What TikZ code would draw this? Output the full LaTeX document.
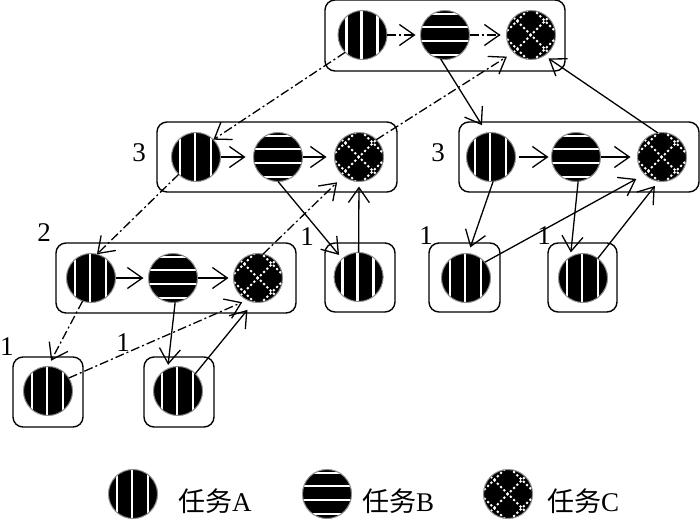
\documentclass[tikz,border=0pt]{standalone}
\usepackage{fontspec}
\setmainfont{Liberation Serif}
\newfontfamily\cjkfam{Noto Sans CJK SC}
\usetikzlibrary{arrows.meta}
\tikzset{
  x=1pt,y=-1pt,
  disc/.style={circle,draw=black!45,line width=1pt,fill=black,minimum size=49pt,inner sep=0pt,outer sep=0pt},
  taskA/.style={disc,path picture={\begin{scope}[shift={(path picture bounding box.center)},white,line width=2.6pt]
     \foreach \d in {-16,-1,15} {\draw (\d,-26) -- (\d,26);}
     \end{scope}}},
  taskB/.style={disc,path picture={\begin{scope}[shift={(path picture bounding box.center)},white,line width=2.6pt]
     \foreach \d in {-21,-8,6,20} {\draw (-26,\d) -- (26,\d);}
     \end{scope}}},
  taskC/.style={disc,path picture={\begin{scope}[shift={(path picture bounding box.center)},yshift=5pt,white,line width=2pt,dash pattern=on 2.2pt off 2.4pt]
     \foreach \d in {-28,0,28} {\draw (-50,\d-50) -- (50,\d+50); \draw (-50,\d+50) -- (50,\d-50);}
     \end{scope}}},
  group/.style={draw=black,line width=1.4pt,rounded corners=10pt,fill=white,inner sep=0pt,outer sep=0pt},
  link/.style={draw=black,line width=1.3pt,-{Straight Barb[length=15pt,width=21pt,line width=1.3pt]}},
  dlink/.style={link,dash pattern=on 9pt off 3pt on 2pt off 3pt},
  num/.style={font=\fontsize{27}{27}\selectfont,inner sep=0pt},
  legend/.style={font=\fontsize{27}{27}\selectfont,inner sep=0pt,anchor=west}
}
\begin{document}
\begin{tikzpicture}
\useasboundingbox[fill=white] (0,0) rectangle (700,522);
% boxes
\node[group,minimum width=240pt,minimum height=71pt] (g1) at (445,35.5) {};
\node[group,minimum width=240pt,minimum height=70pt] (g2) at (277,157) {};
\node[group,minimum width=240pt,minimum height=70pt] (g3) at (579,157) {};
\node[group,minimum width=240pt,minimum height=70pt] (g4) at (176,278) {};
\node[group,minimum width=70pt,minimum height=69pt] (g5) at (360,277.5) {};
\node[group,minimum width=71pt,minimum height=69pt] (g6) at (464.5,277.5) {};
\node[group,minimum width=69pt,minimum height=69pt] (g7) at (582.5,277.5) {};
\node[group,minimum width=70pt,minimum height=70pt] (g8) at (48,392) {};
\node[group,minimum width=70pt,minimum height=70pt] (g9) at (179,392) {};
% discs
\node[taskA] (ta) at (362.5,35) {};
\node[taskB] (tb) at (445,35) {};
\node[taskC] (tc) at (531,35) {};
\node[taskA] (la) at (196,157) {};
\node[taskB] (lb) at (278,157) {};
\node[taskC] (lc) at (359,157) {};
\node[taskA] (ra) at (491,157) {};
\node[taskB] (rb) at (576,157) {};
\node[taskC] (rc) at (662,157) {};
\node[taskA] (ma) at (91,278) {};
\node[taskB] (mb) at (173,278) {};
\node[taskC] (mc) at (258,278) {};
\node[taskA] (s1) at (358.6,277) {};
\node[taskA] (s2) at (466,278) {};
\node[taskA] (s3) at (583,278) {};
\node[taskA] (s4) at (48,391) {};
\node[taskA] (s5) at (178,391) {};
% row links
\draw[dlink,shorten >=5pt] (ta.east) -- (tb.west);
\draw[dlink,shorten >=6pt] (tb.east) -- (tc.west);
\draw[link,shorten >=8pt] (la.east) -- (lb.west);
\draw[link,shorten >=8pt] (lb.east) -- (lc.west);
\draw[link,shorten <=3pt,shorten >=3pt] (ra.east) -- (rb.west);
\draw[link,shorten >=7pt] (rb.east) -- (rc.west);
\draw[link,shorten >=5pt] (ma.east) -- (mb.west);
\draw[link,shorten >=5pt] (mb.east) -- (mc.west);
% cross links
\draw[dlink] (ta.225) -- (la.45);
\draw[dlink,shorten >=8pt] (lc.45) -- (tc.225);
\draw[link,shorten >=9pt] (tb.-100) -- (ra.100);
\draw[link,shorten >=5pt] (rc.100) -- (tc.-57);
\draw[dlink] (la.225) -- (ma.76);
\draw[link,shorten >=5pt] (lb.270) -- (s1.132);
\draw[link,shorten >=5pt] (s1.north) -- (lc.south);
\draw[dlink,shorten >=9pt] (mc.78) -- (lc.231);
\draw[link,shorten >=4pt] (mb.-85) -- (s5.115);
\draw[link,shorten >=10pt] (s5.45) -- (mc.260);
\draw[dlink,shorten >=5.5pt] (s4.32) -- (mc.244);
\draw[dlink,shorten >=6.5pt] (ma.250) -- (s4.north);
\draw[link,shorten >=6.5pt] (ra.-85) -- (s2.85);
\draw[link,shorten >=9.5pt] (s2.40) -- (rc.225);
\draw[link,shorten >=4.6pt] (rb.-85) -- (s3.121);
\draw[link,shorten >=6pt] (s3.53) -- (rc.262);
% numbers
\node[num] (n1) at (139,153) {3};
\node[num] (n2) at (438,153) {3};
\node[num] (n3) at (44,233) {2};
\node[num] (n4) at (307,237) {1};
\node[num] (n5) at (426,236) {1};
\node[num] (n6) at (544,236) {1};
\node[num] (n7) at (7,347) {1};
\node[num] (n8) at (123,343) {1};
% legend
\node[taskA] (ka) at (133,494) {};
\node[taskB] (kb) at (327,494) {};
\node[taskC] (kc) at (508,494) {};
\node[legend] (ta1) at (178,501) {{\cjkfam 任务}A};
\node[legend] (tb1) at (362,501) {{\cjkfam 任务}B};
\node[legend] (tc1) at (547,501) {{\cjkfam 任务}C};
\end{tikzpicture}
\end{document}
